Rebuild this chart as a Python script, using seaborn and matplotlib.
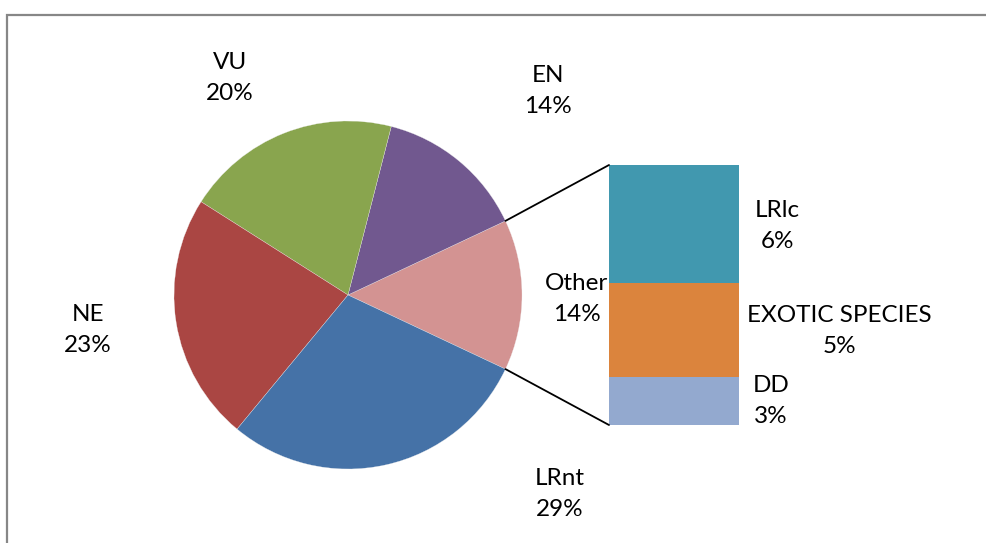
import matplotlib
matplotlib.use("Agg")
import matplotlib.pyplot as plt
import seaborn as sns
import numpy as np
from matplotlib.patches import ConnectionPatch, Rectangle

# pie slices, counter-clockwise starting from "Other"
pie_labels = ["Other", "EN", "VU", "NE", "LRnt"]
pie_values = [14, 14, 20, 23, 29]
pie_colors = ["#D39392", "#71588F", "#89A54E", "#AA4643", "#4572A7"]

# breakdown of "Other", top to bottom
bar_labels = ["LRlc", "EXOTIC SPECIES", "DD"]
bar_values = [6.35, 5.05, 2.6]
bar_colors = ["#4198AF", "#DB843D", "#93A9CF"]

sns.set_style("white")
plt.rcParams["font.family"] = ["Lato", "DejaVu Sans"]
FS = 17.5
LS = 1.6

W, H = 987, 543
fig = plt.figure(figsize=(W / 100, H / 100), dpi=100)

# main axes in pixel units (y up)
ax = fig.add_axes([0, 0, 1, 1])
center = (348, H - 295)
radius = 174
start = -pie_values[0] / sum(pie_values) * 360 / 2
wedges, _ = ax.pie(pie_values, colors=pie_colors, startangle=start,
                   counterclock=True, center=center, radius=radius,
                   wedgeprops=dict(edgecolor="#eeeeee", linewidth=0.2))
ax.set_xlim(0, W)
ax.set_ylim(0, H)
ax.set_aspect("equal")
ax.axis("off")

# border of the chart area (only left and top are visible)
fig.patches.append(Rectangle((7.5 / W, -0.1), 1.2, (H - 15) / H + 0.1,
                             transform=fig.transFigure, fill=False,
                             edgecolor="#878787", linewidth=1.6))

# stacked bar for "Other"
bx = fig.add_axes([609 / W, (H - 425) / H, 130 / W, 260 / H])
bottom = 0
for lab, val, col in reversed(list(zip(bar_labels, bar_values, bar_colors))):
    bx.bar(0, val, bottom=bottom, width=1, color=col, linewidth=0)
    bottom += val
bx.set_xlim(-0.5, 0.5)
bx.set_ylim(0, sum(bar_values))
bx.axis("off")

# connector lines
w0 = wedges[0]
for ang, yb in [(w0.theta2, sum(bar_values)), (w0.theta1, 0)]:
    px = center[0] + radius * np.cos(np.radians(ang))
    py = center[1] + radius * np.sin(np.radians(ang))
    con = ConnectionPatch(xyA=(px, py), coordsA=ax.transData,
                          xyB=(-0.5, yb), coordsB=bx.transData,
                          color="black", linewidth=1.3)
    fig.add_artist(con)

# labels (pixel positions, y measured from top)
pie_label_pos = {"Other": (577, 299), "EN": (548, 91), "VU": (230, 78),
                 "NE": (88, 330), "LRnt": (560, 494)}
for lab, val in zip(pie_labels, pie_values):
    x, y = pie_label_pos[lab]
    ax.text(x, H - y, f"{lab}\n{val}%", ha="center", va="center",
            fontsize=FS, linespacing=LS, color="black")

bar_label_pos = {"LRlc": (777, 226), "EXOTIC SPECIES": (839, 331),
                 "DD": (771, 401)}
for lab, val in zip(bar_labels, bar_values):
    x, y = bar_label_pos[lab]
    ax.text(x, H - y, f"{lab}\n{round(val)}%", ha="center", va="center",
            fontsize=FS, linespacing=LS, color="black")

fig.savefig("out.png", dpi=100)
